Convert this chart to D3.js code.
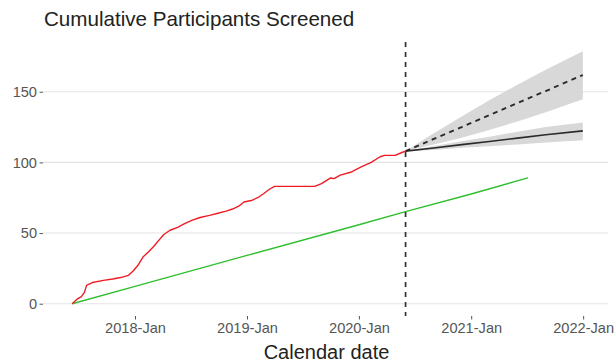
<!DOCTYPE html>
<html>
<head>
<meta charset="utf-8">
<script src="https://cdn.jsdelivr.net/npm/d3@7"></script>
<style>
  html, body { margin: 0; padding: 0; background: #fff; }
  svg { display: block; font-family: "Liberation Sans", Arial, sans-serif; }
</style>
</head>
<body>
<svg id="chart" width="616" height="362"></svg>
<script>
// Observed cumulative screening (red)
const observedDates = ["2017-06-10","2017-06-25","2017-07-10","2017-07-20","2017-07-27","2017-08-15",
  "2017-09-20","2017-10-20","2017-11-15","2017-12-10","2017-12-25","2018-01-10","2018-01-27",
  "2018-02-15","2018-03-05","2018-03-20","2018-04-05","2018-04-25","2018-05-20","2018-06-10",
  "2018-07-05","2018-08-01","2018-09-01","2018-09-28","2018-10-25","2018-11-15","2018-12-05",
  "2018-12-22","2019-01-15","2019-02-05","2019-02-25","2019-03-15","2019-04-01","2019-08-10",
  "2019-09-01","2019-10-01","2019-10-12","2019-11-01","2019-12-05","2020-01-10","2020-02-10","2020-03-10",
  "2020-03-25","2020-04-28","2020-05-20","2020-06-01"];
const observedValues = [0,3,5,8,13,15,16.5,17.5,18.5,20,23,27,33,37,41,45,49,52,54,56.5,
  59,61,62.5,64,65.5,67,69,72,73,75,78,81,83,83,85,89,88.5,91,93,97,100,104,105,105,107,108];

// Planned recruitment target (green)
const targetDates = ["2017-06-10","2018-01-01","2019-01-01","2020-01-01","2020-06-01","2021-01-01","2021-07-05"];
const targetValues = [0,12.3,34.2,55.9,65.2,77.6,89];

// Projections from the cut-off date
const cutoffDate = "2020-06-01";
const projDates = ["2020-06-01","2020-09-01","2020-12-01","2021-03-01","2021-06-01","2021-09-01","2021-12-31"];
const projSlowMid = [108,110.2,112.6,114.8,117.2,119.6,122.3];
const projSlowLow = [108,108.8,110.3,111.4,112.7,114.1,115.6];
const projSlowHigh = [108,111.6,114.9,118.2,121.7,125.1,128.2];
const projFastMid = [108,116.6,125,133.4,142,150.5,161.8];
const projFastLow = [108,112.6,117.5,122.9,129,135.5,144.6];
const projFastHigh = [108,120.6,132.5,143.9,155,165.5,178.6];

const yTicks = [0,50,100,150];
const xTickDates = ["2018-01-01","2019-01-01","2020-01-01","2021-01-01","2022-01-01"];

const parse = d3.timeParse("%Y-%m-%d");
const svg = d3.select("#chart");

const panel = { left: 43, right: 608, top: 42, bottom: 316 };
const x = d3.scaleTime()
  .domain([parse("2017-03-07"), parse("2022-03-23")])
  .range([panel.left, panel.right]);
const y = d3.scaleLinear()
  .domain([-8.7, 185.2])
  .range([panel.bottom, panel.top]);

// Horizontal grid
svg.append("g").selectAll("line").data(yTicks).join("line")
  .attr("x1", panel.left).attr("x2", panel.right)
  .attr("y1", d => y(d)).attr("y2", d => y(d))
  .attr("stroke", "#e4e4e4").attr("stroke-width", 1.1);

// Axes
const yAxis = svg.append("g")
  .attr("transform", `translate(${panel.left},0)`)
  .call(d3.axisLeft(y).tickValues(yTicks).tickSize(3.5).tickPadding(2.5));
const xAxis = svg.append("g")
  .attr("transform", `translate(0,${panel.bottom})`)
  .call(d3.axisBottom(x).tickValues(xTickDates.map(parse))
    .tickFormat(d3.timeFormat("%Y-%b")).tickSize(3.5).tickPadding(3));
[yAxis, xAxis].forEach(g => {
  g.select(".domain").remove();
  g.selectAll(".tick line").attr("stroke", "#555").attr("stroke-width", 1);
  g.selectAll(".tick text").attr("fill", "#555").attr("font-size", 14.6)
    .attr("font-family", "'Liberation Sans', Arial, sans-serif");
});

// Uncertainty ribbons
const band = (low, high) => d3.area()
  .x((d, i) => x(parse(projDates[i])))
  .y0((d, i) => y(low[i]))
  .y1((d, i) => y(high[i]))(projDates);
svg.append("path").attr("d", band(projFastLow, projFastHigh))
  .attr("fill", "#d4d4d4").attr("opacity", 0.9);
svg.append("path").attr("d", band(projSlowLow, projSlowHigh))
  .attr("fill", "#d4d4d4").attr("opacity", 0.9);

const line = (dates, values) => d3.line()
  .x((d, i) => x(parse(dates[i])))
  .y((d, i) => y(values[i]))(dates);

// Target and observed series
svg.append("path").attr("d", line(targetDates, targetValues))
  .attr("fill", "none").attr("stroke", "#2fbf2f").attr("stroke-width", 1.4);
svg.append("path").attr("d", line(observedDates, observedValues))
  .attr("fill", "none").attr("stroke", "#f01c24").attr("stroke-width", 1.4)
  .attr("stroke-linejoin", "round");

// Projection lines
svg.append("path").attr("d", line(projDates, projSlowMid))
  .attr("fill", "none").attr("stroke", "#2a2a2a").attr("stroke-width", 1.6);
svg.append("path").attr("d", line(projDates, projFastMid))
  .attr("fill", "none").attr("stroke", "#2a2a2a").attr("stroke-width", 1.9)
  .attr("stroke-dasharray", "5,4.5");

// Cut-off marker
svg.append("line")
  .attr("x1", x(parse(cutoffDate))).attr("x2", x(parse(cutoffDate)))
  .attr("y1", panel.top).attr("y2", panel.bottom)
  .attr("stroke", "#333").attr("stroke-width", 1.7).attr("stroke-dasharray", "5,5");

// Titles
svg.append("text").attr("x", 44).attr("y", 26)
  .attr("font-size", 20.6).attr("fill", "#222")
  .text("Cumulative Participants Screened");
svg.append("text").attr("x", (panel.left + panel.right) / 2 + 1).attr("y", 359)
  .attr("text-anchor", "middle").attr("font-size", 20).attr("fill", "#222")
  .text("Calendar date");
</script>
</body>
</html>
